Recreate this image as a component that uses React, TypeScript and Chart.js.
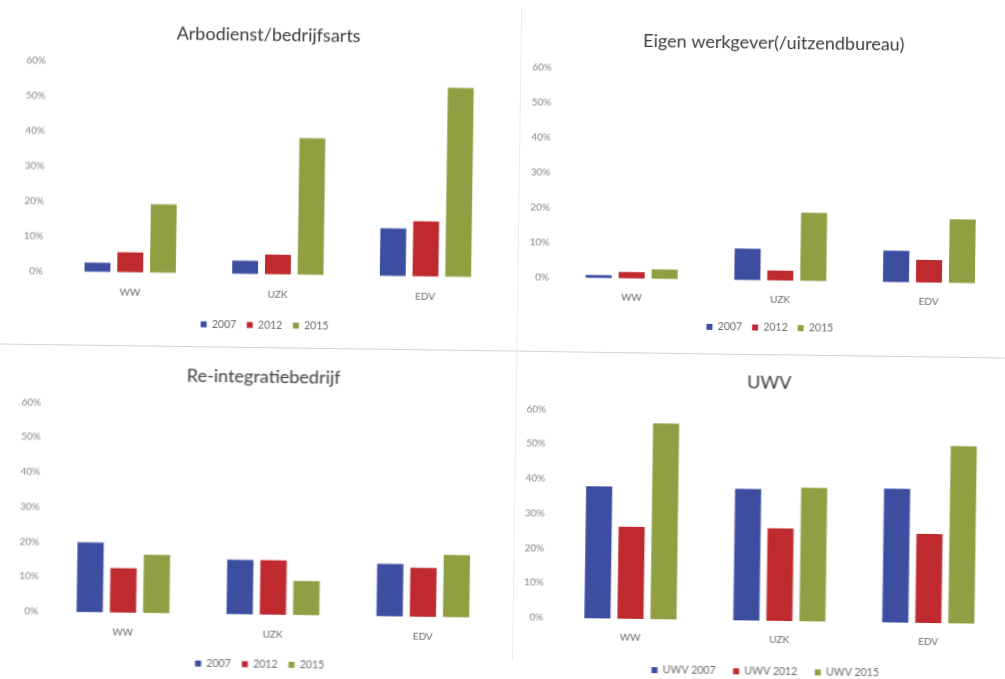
import React, { useEffect, useRef } from "react";
import { Chart, registerables } from "chart.js";

Chart.register(...registerables);

// ---------- data ----------
const categories = ["WW", "UZK", "EDV"];
const yearLabels = ["2007", "2012", "2015"];
const uwvLabels = ["UWV 2007", "UWV 2012", "UWV 2015"];
const yTickMin = 0;
const yTickMax = 60;
const yTickStep = 10;

const arbo2007 = [2.6, 3.8, 13.6];
const arbo2012 = [5.7, 5.6, 15.7];
const arbo2015 = [19.5, 39, 54];

const eigen2007 = [0.8, 9, 9];
const eigen2012 = [1.8, 2.8, 6.5];
const eigen2015 = [2.7, 19.5, 18.2];

const reint2007 = [20, 15.6, 15];
const reint2012 = [12.7, 15.6, 14];
const reint2015 = [16.7, 9.8, 17.8];

const uwv2007 = [38, 37.8, 38.5];
const uwv2012 = [26.5, 26.6, 25.6];
const uwv2015 = [56.3, 38.4, 51];

const titles = [
  "Arbodienst/bedrijfsarts",
  "Eigen werkgever(/uitzendbureau)",
  "Re-integratiebedrijf",
  "UWV",
];

// ---------- styling / layout ----------
const COLORS = ["#3d4ea1", "#bf2a2f", "#8f9f42"];
const FONT = "Lato, 'Open Sans', sans-serif";
const TITLE_SIZE = 18;
const TITLE_LH = TITLE_SIZE * 1.2;
const LEGEND_SIZE = 10.5;
const XTICK_SIZE = 10;
const YTICK_SIZE = 10;
const ROTATE_DEG = 0.8; // the scanned page is slightly tilted

type Spec = {
  title: string;
  legend: string[];
  series: number[][];
  top: number;
  area: { l: number; r: number; t: number; b: number };
  centerX: number;
  titleY: number;
  yLabelRight: number;
  xLabelY: number;
  legendY: number;
  legendPad: number;
};

const specs: Spec[] = [
  {
    title: titles[0],
    legend: yearLabels,
    series: [arbo2007, arbo2012, arbo2015],
    top: 0,
    area: { l: 55, r: 498, t: 67.2, b: 276.6 },
    centerX: 264,
    titleY: 38.3,
    yLabelRight: 41.6,
    xLabelY: 296.5,
    legendY: 327.5,
    legendPad: 10.5,
  },
  {
    title: titles[1],
    legend: yearLabels,
    series: [eigen2007, eigen2012, eigen2015],
    top: 0,
    area: { l: 556, r: 1002, t: 66.6, b: 276.6 },
    centerX: 769.3,
    titleY: 39.5,
    yLabelRight: 547.6,
    xLabelY: 296,
    legendY: 324,
    legendPad: 10,
  },
  {
    title: titles[2],
    legend: yearLabels,
    series: [reint2007, reint2012, reint2015],
    top: 350,
    area: { l: 52, r: 501, t: 408.4, b: 617 },
    centerX: 264,
    titleY: 380.4,
    yLabelRight: 42.3,
    xLabelY: 636.5,
    legendY: 666.7,
    legendPad: 11,
  },
  {
    title: titles[3],
    legend: uwvLabels,
    series: [uwv2007, uwv2012, uwv2015],
    top: 350,
    area: { l: 560, r: 1006, t: 408.4, b: 617 },
    centerX: 769.6,
    titleY: 379.3,
    yLabelRight: 547.3,
    xLabelY: 636,
    legendY: 668,
    legendPad: 17.5,
  },
];

function geom(s: Spec) {
  const A = s.yLabelRight - 30;
  const B = 2 * s.centerX - A;
  const bottom = s.legendY + 10 + LEGEND_SIZE / 2;
  return { x: A, w: B - A, y: s.top, h: bottom - s.top, bottom };
}

function BarPanel({ spec }: { spec: Spec }) {
  const ref = useRef<HTMLCanvasElement | null>(null);

  useEffect(() => {
    const s = spec;
    if (!ref.current) return;
    const g = geom(s);
    const yW = s.area.l - g.x;
    const rW = g.x + g.w - s.area.r;
    const titlePadTop = s.titleY - s.top - TITLE_LH / 2;
    const titlePadBottom = s.area.t - s.top - titlePadTop - TITLE_LH;
    const legendH = LEGEND_SIZE + s.legendPad + 10;
    const xAxisH = g.bottom - legendH - s.area.b;
    const xTickPad = s.xLabelY - s.area.b - (XTICK_SIZE * 1.2) / 2;
    const yTickPad = s.area.l - s.yLabelRight;

    const chart = new Chart(ref.current, {
      type: "bar",
      data: {
        labels: categories,
        datasets: s.series.map((vals, i) => ({
          label: s.legend[i],
          data: vals,
          backgroundColor: COLORS[i],
          borderWidth: 0,
          categoryPercentage: 0.665,
          barPercentage: 0.79,
          yAxisID: "y",
        })),
      },
      options: {
        animation: false,
        responsive: true,
        maintainAspectRatio: false,
        layout: { padding: 0 },
        plugins: {
          title: {
            display: true,
            text: s.title,
            color: "#3c3c3c",
            font: { family: FONT, size: TITLE_SIZE, weight: "normal", lineHeight: 1.2 },
            padding: { top: titlePadTop, bottom: titlePadBottom },
          },
          legend: {
            display: true,
            position: "bottom",
            labels: {
              boxWidth: 6,
              boxHeight: 6,
              padding: s.legendPad,
              color: "#6a6a6a",
              font: { family: FONT, size: LEGEND_SIZE },
            },
          },
          tooltip: { enabled: false },
        },
        scales: {
          x: {
            grid: { display: false, drawTicks: false },
            border: { display: false },
            ticks: {
              color: "#6a6a6a",
              padding: xTickPad,
              font: { family: FONT, size: XTICK_SIZE },
            },
            afterFit: (scale: any) => {
              scale.height = xAxisH;
            },
          },
          y: {
            position: "left",
            min: yTickMin,
            max: yTickMax,
            grid: { display: false, drawTicks: false },
            border: { display: false },
            ticks: {
              stepSize: yTickStep,
              color: "#858585",
              padding: yTickPad,
              font: { family: FONT, size: YTICK_SIZE },
              callback: (v: any) => `${v}%`,
            },
            afterFit: (scale: any) => {
              scale.width = yW;
            },
          },
          spacer: {
            type: "linear",
            position: "right",
            display: true,
            grid: { display: false, drawTicks: false },
            border: { display: false },
            ticks: { display: false },
            afterFit: (scale: any) => {
              scale.width = rW;
            },
          },
        },
      },
    });
    return () => chart.destroy();
  }, [spec]);

  const g = geom(spec);
  return (
    <div
      style={{
        position: "absolute",
        left: g.x,
        top: g.y,
        width: g.w,
        height: g.h,
      }}
    >
      <canvas ref={ref} />
    </div>
  );
}

export default function App() {
  return (
    <div
      style={{
        position: "absolute",
        left: 0,
        top: 0,
        width: 1005,
        height: 679,
        overflow: "hidden",
        background: "#ffffff",
      }}
    >
      <div
        style={{
          position: "absolute",
          left: 0,
          top: 0,
          width: 1005,
          height: 679,
          transform: `rotate(${ROTATE_DEG}deg)`,
          transformOrigin: "502.5px 339.5px",
        }}
      >
        <svg
          width={1005}
          height={679}
          style={{ position: "absolute", left: 0, top: 0 }}
        >
          <line x1={-20} y1={351} x2={1030} y2={351} stroke="#d4d4d4" strokeWidth={1} />
          <line x1={517} y1={8} x2={517} y2={660} stroke="#ececec" strokeWidth={1} />
        </svg>
        {specs.map((s, i) => (
          <BarPanel key={i} spec={s} />
        ))}
      </div>
    </div>
  );
}
